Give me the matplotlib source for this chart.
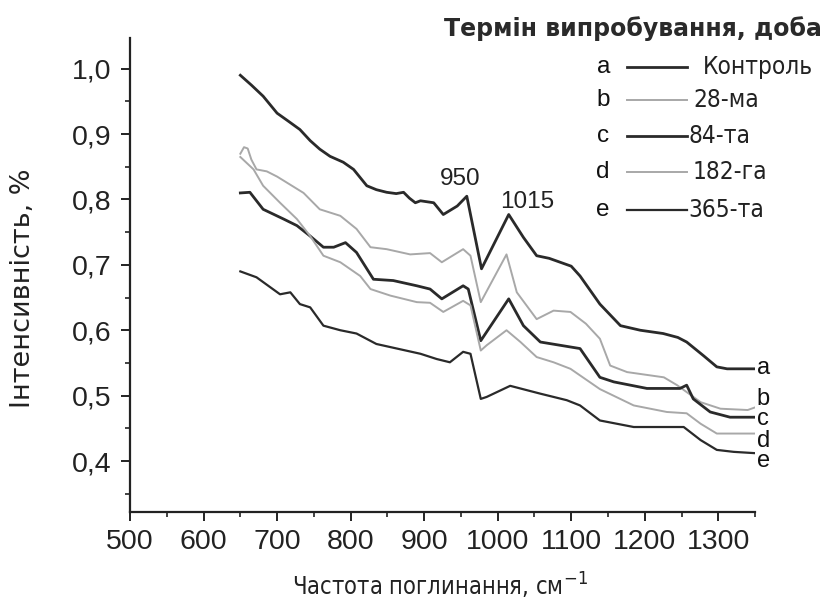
import matplotlib
matplotlib.use("Agg")
import matplotlib.pyplot as plt
from matplotlib.ticker import MultipleLocator, FuncFormatter
from matplotlib.lines import Line2D

# -----------------------------
# data
# -----------------------------
xa = [650, 665, 681, 700, 715, 731, 745, 758, 772, 790, 804, 822, 835, 849, 862, 872, 880, 888, 895, 913, 926,
      945, 958, 978, 1015, 1035, 1053, 1070, 1085, 1100, 1112, 1139, 1167, 1194, 1225, 1245, 1257, 1280, 1298, 1312, 1350]
ya = [0.990, 0.975, 0.958, 0.932, 0.920, 0.907, 0.890, 0.877, 0.866, 0.857, 0.846, 0.821, 0.815, 0.811, 0.809, 0.811, 0.802, 0.795, 0.798, 0.795, 0.777,
      0.790, 0.805, 0.694, 0.777, 0.742, 0.714, 0.710, 0.704, 0.698, 0.683, 0.640, 0.607, 0.600, 0.595, 0.589, 0.582, 0.561, 0.544, 0.541, 0.541]

xb = [650, 655, 660, 665, 672, 686, 700, 713, 736, 758, 786, 808, 827, 849, 881, 908, 924, 953, 963,
      977, 1012, 1026, 1053, 1076, 1099, 1120, 1139, 1153, 1176, 1226, 1244, 1276, 1303, 1340, 1350]
yb = [0.870, 0.880, 0.878, 0.861, 0.846, 0.843, 0.835, 0.826, 0.810, 0.785, 0.775, 0.755, 0.727, 0.724, 0.716, 0.718, 0.704, 0.724, 0.714,
      0.643, 0.716, 0.658, 0.617, 0.630, 0.628, 0.610, 0.587, 0.546, 0.536, 0.528, 0.516, 0.490, 0.480, 0.478, 0.482]

xc = [650, 663, 681, 709, 727, 745, 763, 777, 793, 808, 831, 858, 890, 908, 924, 953, 960,
      977, 1015, 1035, 1058, 1085, 1112, 1139, 1158, 1203, 1248, 1257, 1266, 1289, 1316, 1350]
yc = [0.810, 0.811, 0.785, 0.770, 0.760, 0.744, 0.727, 0.727, 0.734, 0.719, 0.678, 0.676, 0.668, 0.663, 0.648, 0.668, 0.663,
      0.584, 0.648, 0.607, 0.582, 0.577, 0.572, 0.528, 0.521, 0.511, 0.511, 0.516, 0.495, 0.475, 0.467, 0.467]

xd = [650, 668, 681, 704, 727, 745, 763, 786, 813, 827, 854, 890, 908, 926, 953, 963,
      977, 985, 1012, 1031, 1053, 1076, 1099, 1139, 1185, 1230, 1257, 1276, 1298, 1350]
yd = [0.865, 0.846, 0.821, 0.795, 0.770, 0.744, 0.714, 0.704, 0.683, 0.663, 0.653, 0.643, 0.642, 0.628, 0.645, 0.638,
      0.569, 0.577, 0.600, 0.582, 0.559, 0.551, 0.541, 0.510, 0.485, 0.475, 0.473, 0.457, 0.442, 0.442]

xe = [650, 672, 704, 718, 731, 745, 763, 786, 808, 835, 863, 895, 917, 935, 953, 963,
      977, 985, 1017, 1058, 1094, 1112, 1139, 1185, 1230, 1253, 1276, 1298, 1321, 1350]
ye = [0.690, 0.681, 0.655, 0.658, 0.640, 0.635, 0.607, 0.600, 0.595, 0.579, 0.572, 0.564, 0.556, 0.551, 0.567, 0.564,
      0.495, 0.498, 0.515, 0.503, 0.493, 0.485, 0.462, 0.452, 0.452, 0.452, 0.432, 0.417, 0.414, 0.412]

series = [(xa, ya), (xb, yb), (xc, yc), (xd, yd), (xe, ye)]
letters = ['a', 'b', 'c', 'd', 'e']
names = ['Контроль', '28-ма', '84-та', '182-га', '365-та']
end_label_y = [0.542, 0.495, 0.464, 0.431, 0.400]
peaks = ['950', '1015']
peak_label_x = [949, 1040]
peak_label_y = [0.815, 0.780]

DARK = '#2a2a2a'
LIGHT = '#a8a8a8'
colors = [DARK, LIGHT, DARK, LIGHT, DARK]
widths = [2.0, 1.4, 2.0, 1.4, 1.6]

plt.rcParams['font.family'] = ['Liberation Sans', 'DejaVu Sans']

fig = plt.figure(figsize=(8.32, 6.04), dpi=100)
ax = fig.add_axes([0.1563, 0.1523, 0.7512, 0.7848])

for (x, y), c, lw in zip(series, colors, widths):
    ax.plot(x, y, color=c, lw=lw)

ax.set_xlim(500, 1350)
ax.set_ylim(0.322, 1.047)

ax.xaxis.set_major_locator(MultipleLocator(100))
ax.xaxis.set_minor_locator(MultipleLocator(50))
ax.yaxis.set_major_locator(MultipleLocator(0.1))
ax.yaxis.set_minor_locator(MultipleLocator(0.05))
ax.yaxis.set_major_formatter(FuncFormatter(lambda v, p: f"{v:.1f}".replace('.', ',')))

for s in ['top', 'right']:
    ax.spines[s].set_visible(False)
for s in ['left', 'bottom']:
    ax.spines[s].set_linewidth(1.6)
    ax.spines[s].set_color('#222222')

ax.tick_params(which='major', length=6.5, width=1.4, labelsize=20.5, colors='#222222')
ax.tick_params(axis='y', which='major', pad=7)
ax.tick_params(axis='x', which='major', pad=6)
ax.tick_params(which='minor', length=3.6, width=1.2, colors='#222222')

ax.set_ylabel('Інтенсивність, %', fontsize=19.5, color='#222222', family='DejaVu Sans')
ax.yaxis.set_label_coords(-0.150, 0.473)
ax.set_xlabel('Частота поглинання, см$^{-1}$', fontsize=17, color='#222222',
              family='DejaVu Sans', stretch='condensed')
ax.xaxis.set_label_coords(0.496, -0.125)

# peak numbers
for txt, px, py in zip(peaks, peak_label_x, peak_label_y):
    ax.text(px, py, txt, fontsize=17.5, ha='center', va='bottom', color='#222222')

# letters at the right ends of the curves
for lt, yy in zip(letters, end_label_y):
    ax.text(1352, yy, lt, fontsize=17, ha='left', va='center', color='#111111', clip_on=False)

# legend block drawn by hand in figure coordinates
fig.text(0.988, 0.953, 'Термін випробування, доба', fontsize=17, ha='right', va='center',
         family='DejaVu Sans', weight='bold', color='#2a2a2a')
row_y = [0.889, 0.834, 0.775, 0.716, 0.652]
label_x = [0.845, 0.833, 0.827, 0.833, 0.827]
for i, (lt, nm) in enumerate(zip(letters, names)):
    yy = row_y[i]
    fig.text(0.725, yy, lt, fontsize=17.5, ha='center', va='center', color='#111111')
    fig.add_artist(Line2D([0.754, 0.826], [yy, yy], transform=fig.transFigure,
                          color=colors[i], lw=widths[i]))
    fig.text(label_x[i], yy, nm, fontsize=17.5, ha='left', va='center',
             family='DejaVu Sans', stretch='condensed', color='#222222')

fig.savefig('out.png', dpi=100)
